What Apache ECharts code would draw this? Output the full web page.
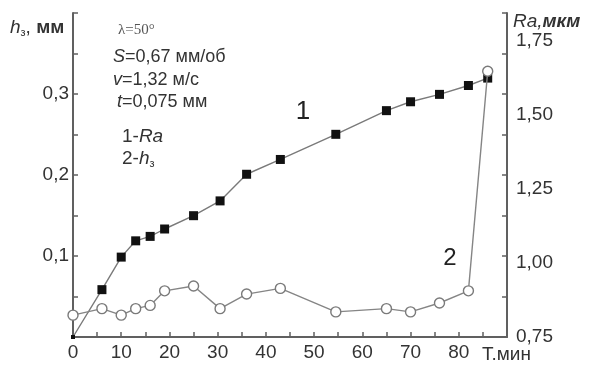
<!DOCTYPE html>
<html>
<head>
<meta charset="utf-8">
<script src="https://cdn.jsdelivr.net/npm/echarts@6/dist/echarts.min.js"></script>
<style>html,body{margin:0;padding:0;background:#fff;}#c{width:591px;height:365px;}</style>
</head>
<body>
<div id="c"></div>
<script>
// Data
var timeMin = [0, 6, 10, 13, 16, 19, 25, 30.5, 36, 43, 54.5, 65, 70, 76, 82, 86];
var raValues = [0.75, 0.91, 1.02, 1.075, 1.09, 1.115, 1.16, 1.21, 1.30, 1.35, 1.435, 1.515, 1.545, 1.57, 1.60, 1.625];
var wearValues = [0.027, 0.035, 0.027, 0.035, 0.039, 0.057, 0.063, 0.035, 0.053, 0.060, 0.031, 0.035, 0.031, 0.042, 0.057, 0.328];
var xTicks = [0, 10, 20, 30, 40, 50, 60, 70, 80];
var leftTicks = [0.1, 0.2, 0.3];
var rightTicks = [0.75, 1.00, 1.25, 1.50, 1.75];

var FONT = '"Liberation Sans", Arial, sans-serif';
var TXT = '#333';
var AX = '#606060';

function near(v, list) { for (var i = 0; i < list.length; i++) if (Math.abs(v - list[i]) < 1e-6) return true; return false; }

var chart = echarts.init(document.getElementById('c'), null, {renderer: 'canvas'});

function t(x, y, text, size, extra) {
  var base = {fontSize: size, fontFamily: FONT, fill: TXT};
  var rich = {
    i: {fontSize: size, fontFamily: FONT, fontStyle: 'italic', fill: TXT},
    n: {fontSize: size, fontFamily: FONT, fill: TXT},
    b: {fontSize: size, fontFamily: FONT, fontWeight: 'bold', fill: TXT},
    bi: {fontSize: size, fontFamily: FONT, fontWeight: 'bold', fontStyle: 'italic', fill: TXT},
    s: {fontSize: Math.round(size * 0.6), fontFamily: FONT, fill: TXT, padding: [Math.round(size * 0.55), 0, 0, 0]}
  };
  return {type: 'text', x: x, y: y, z: 100, style: Object.assign({text: text, rich: rich, verticalAlign: 'middle', align: 'left'}, base, extra || {})};
}

var option = {
  animation: false,
  backgroundColor: '#fff',
  grid: {left: 73, right: 84, top: 13, bottom: 28, containLabel: false},
  xAxis: {
    type: 'value', min: 0, max: 90, interval: 5,
    axisLine: {lineStyle: {color: AX, width: 2}},
    axisTick: {inside: true, length: 5, lineStyle: {color: AX, width: 1.5}},
    splitLine: {show: false},
    axisLabel: {color: TXT, fontSize: 19, fontFamily: FONT, margin: 6,
      formatter: function (v) { return near(v, xTicks) ? String(v) : ''; }}
  },
  yAxis: [
    {
      type: 'value', min: 0, max: 0.4, interval: 0.05, position: 'left',
      axisLine: {show: true, lineStyle: {color: AX, width: 2}},
      axisTick: {inside: true, length: 5, lineStyle: {color: AX, width: 1.5}},
      splitLine: {show: false},
      axisLabel: {color: TXT, fontSize: 19, fontFamily: FONT, margin: 4,
        formatter: function (v) { return near(v, leftTicks) ? v.toFixed(1).replace('.', ',') : ''; }}
    },
    {
      type: 'value', min: 0.75, max: 1.845, interval: 0.25, position: 'right',
      axisLine: {show: true, lineStyle: {color: AX, width: 2}},
      axisTick: {show: false},
      splitLine: {show: false},
      axisLabel: {color: TXT, fontSize: 19, fontFamily: FONT, margin: 9,
        formatter: function (v) { return near(v, rightTicks) ? v.toFixed(2).replace('.', ',') : ''; }}
    },
    {
      type: 'value', min: 0, max: 0.4, interval: 0.05, position: 'right',
      axisLine: {show: false},
      axisTick: {show: true, inside: true, length: 5, lineStyle: {color: AX, width: 1.5}},
      axisLabel: {show: false},
      splitLine: {show: false}
    }
  ],
  series: [
    {
      name: 'Ra', type: 'line', yAxisIndex: 1,
      data: timeMin.map(function (x, i) { return [x, raValues[i]]; }),
      symbol: 'rect',
      symbolSize: function (v, p) { return p.dataIndex === 0 ? 4 : 9; },
      itemStyle: {color: '#111', borderColor: '#111', borderWidth: 0},
      lineStyle: {color: '#7a7a7a', width: 1.4},
      z: 3
    },
    {
      name: 'h', type: 'line', yAxisIndex: 0,
      data: timeMin.map(function (x, i) { return [x, wearValues[i]]; }),
      symbol: 'circle', symbolSize: 10,
      itemStyle: {color: '#fff', borderColor: '#7a7a7a', borderWidth: 1.4},
      lineStyle: {color: '#858585', width: 1.4},
      z: 4
    }
  ],
  graphic: [
    {type: 'text', x: 118, y: 30, z: 100, style: {text: 'λ=50°', fontSize: 15, fontFamily: '"Liberation Serif", "Times New Roman", serif', fill: '#555', verticalAlign: 'middle'}},
    t(113, 57, '{i|S}{n|=0,67 мм/об}', 18),
    t(113, 80, '{i|v}{n|=1,32 м/с}', 18),
    t(117, 102, '{i|t}{n|=0,075 мм}', 18),
    t(122, 137, '{n|1-}{i|Ra}', 19),
    t(122, 159, '{n|2-}{i|h}{s|з}', 19),
    t(10, 28, '{i|h}{s|з}{n|, }{b|мм}', 19),
    t(513, 22, '{i|Ra,}{bi|мкм}', 19),
    t(482, 355, '{n|Т.мин}', 19),
    {type: 'text', x: 303, y: 112, z: 100, style: {text: '1', fontSize: 26, fontFamily: FONT, fill: '#222', align: 'center', verticalAlign: 'middle'}},
    {type: 'text', x: 450, y: 258, z: 100, style: {text: '2', fontSize: 24, fontFamily: FONT, fill: '#222', align: 'center', verticalAlign: 'middle'}}
  ]
};
chart.setOption(option);
</script>
</body>
</html>
